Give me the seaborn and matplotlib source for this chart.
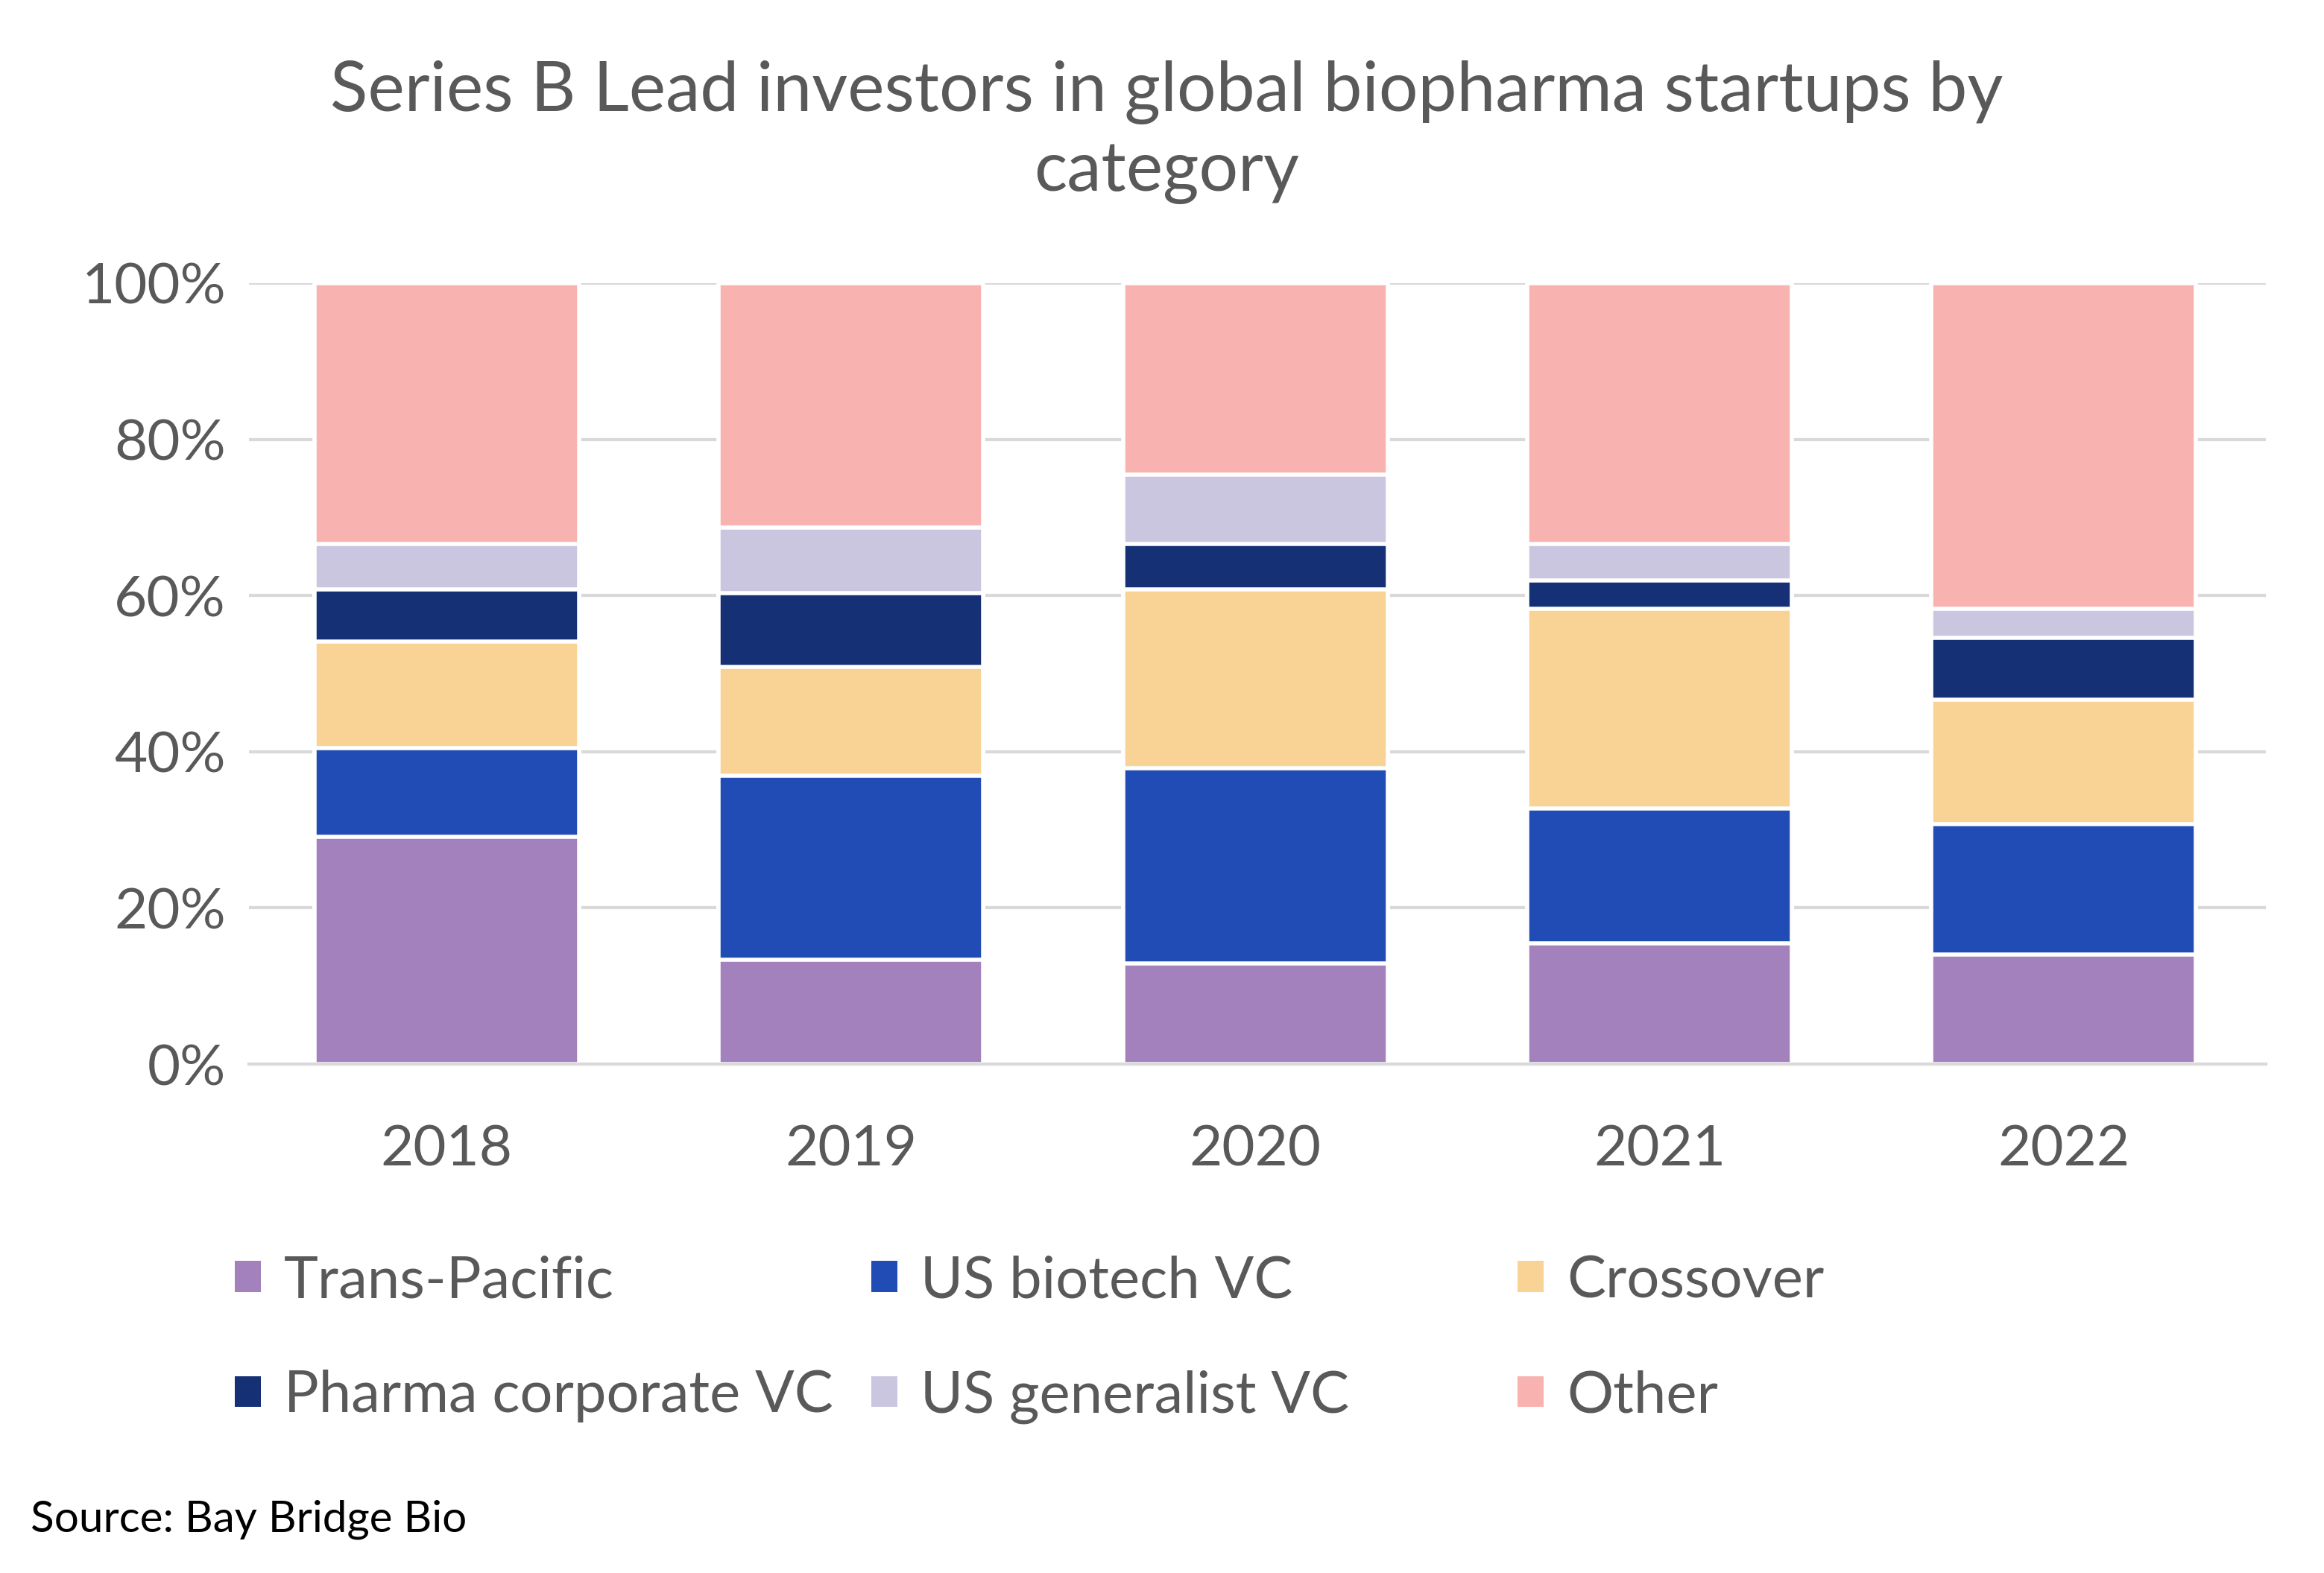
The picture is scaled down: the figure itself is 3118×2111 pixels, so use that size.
import numpy as np
import pandas as pd
import matplotlib
matplotlib.use('Agg')
import matplotlib.pyplot as plt
import seaborn as sb
from matplotlib.patches import Patch
from matplotlib.ticker import PercentFormatter

# shares of Series B lead investors (% of deals)
years = ['2018', '2019', '2020', '2021', '2022']
categories = ['Trans-Pacific', 'US biotech VC', 'Crossover',
              'Pharma corporate VC', 'US generalist VC', 'Other']
trans_pacific = [29.1, 13.4, 12.9, 15.5, 14.0]
us_biotech_vc = [11.4, 23.5, 25.0, 17.2, 16.7]
crossover = [13.6, 14.0, 22.9, 25.6, 16.0]
pharma_corp_vc = [6.7, 9.4, 5.8, 3.6, 7.9]
us_generalist_vc = [5.8, 8.4, 8.9, 4.7, 3.7]
other = [33.4, 31.3, 24.5, 33.4, 41.7]

colors = ['#A281BC', '#214CB5', '#F9D295', '#163076', '#CAC6DF', '#F8B3B1']
text_grey = '#595959'

df = pd.DataFrame({'year': years,
                   'Trans-Pacific': trans_pacific,
                   'US biotech VC': us_biotech_vc,
                   'Crossover': crossover,
                   'Pharma corporate VC': pharma_corp_vc,
                   'US generalist VC': us_generalist_vc,
                   'Other': other})
# cumulative tops so the stacks can be drawn back to front
cum = df[categories].cumsum(axis=1)

sb.set_style('white')
plt.rcParams['font.family'] = ['Lato', 'DejaVu Sans']

fig = plt.figure(figsize=(31.18, 21.11), dpi=100)
ax = fig.add_axes([0.107, 0.3235, 0.868, 0.4965])

for cat, col in reversed(list(zip(categories, colors))):
    sb.barplot(x=df['year'], y=cum[cat], color=col, width=0.655,
               edgecolor='white', linewidth=4, saturation=1, ax=ax, zorder=2)

ax.set_ylim(0, 100)
ax.set_xlim(-0.49, 4.5)
ax.set_yticks(np.arange(0, 101, 20))
ax.yaxis.set_major_formatter(PercentFormatter(decimals=0))
ax.grid(axis='y', color='#D9D9D9', linewidth=3, zorder=0)
ax.set_axisbelow(True)
for s in ['top', 'right', 'left']:
    ax.spines[s].set_visible(False)
ax.spines['bottom'].set_color('#D9D9D9')
ax.spines['bottom'].set_linewidth(3)
ax.spines['bottom'].set_zorder(5)
ax.tick_params(axis='both', length=0, labelsize=55, labelcolor=text_grey)
ax.tick_params(axis='y', pad=22)
ax.tick_params(axis='x', pad=58)
ax.set_xlabel('')
ax.set_ylabel('')

fig.text(0.502, 0.916, 'Series B Lead investors in global biopharma startups by\ncategory',
         ha='center', va='center', fontsize=67, color=text_grey, linespacing=1.3)

# legend laid out in three fixed columns like the original
col_x = [0.091, 0.365, 0.643]
for i, x in enumerate(col_x):
    idx = [i, i + 3]
    handles = [Patch(facecolor=colors[j], edgecolor='none') for j in idx]
    labels = [categories[j] for j in idx]
    fig.legend(handles, labels, loc='upper left', bbox_to_anchor=(x, 0.217),
               frameon=False, fontsize=56, labelcolor=text_grey,
               handlelength=0.45, handleheight=0.45, handletextpad=0.4,
               labelspacing=1.07, borderaxespad=0)

fig.text(0.013, 0.034, 'Source: Bay Bridge Bio', ha='left', va='center',
         fontsize=42, color='black')

plt.savefig('out.png', dpi=100)
